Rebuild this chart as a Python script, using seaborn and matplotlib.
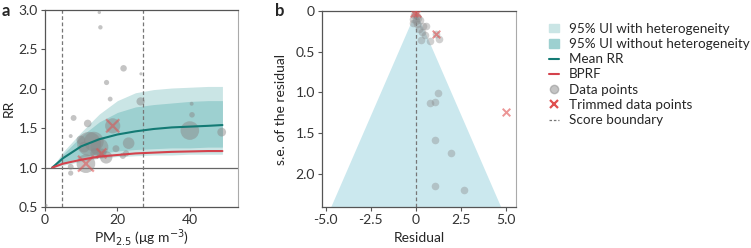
import matplotlib
matplotlib.use("Agg")
import matplotlib.pyplot as plt
import seaborn as sns
import pandas as pd
from matplotlib.lines import Line2D
from matplotlib.patches import Patch

# ---- panel a: risk curve ----
exposure = [2, 5, 10, 15, 20, 25, 30, 35, 40, 45, 49]
mean_rr = [1.0, 1.12, 1.27, 1.36, 1.42, 1.46, 1.49, 1.51, 1.52, 1.53, 1.54]
bprf = [1.0, 1.05, 1.10, 1.14, 1.16, 1.18, 1.19, 1.20, 1.205, 1.21, 1.21]
ui_het_lo = [1.0, 1.03, 1.08, 1.12, 1.14, 1.15, 1.16, 1.16, 1.17, 1.17, 1.17]
ui_het_hi = [1.0, 1.20, 1.45, 1.68, 1.85, 1.95, 1.99, 2.01, 2.02, 2.03, 2.03]
ui_lo = [1.0, 1.06, 1.13, 1.18, 1.21, 1.23, 1.24, 1.25, 1.25, 1.26, 1.26]
ui_hi = [1.0, 1.17, 1.40, 1.58, 1.70, 1.77, 1.80, 1.82, 1.84, 1.85, 1.85]

pts_x = [15.0, 15.3, 21.7, 26.5, 17.0, 18.0, 26.4, 7.9, 7.1, 11.8, 18.7, 40.5, 40.6,
         40.0, 48.8, 23.1, 12.2, 13.5, 15.0, 19.6, 22.4, 21.5, 16.9, 11.3, 7.1, 7.1,
         10.8, 14.0, 9.9, 15.6, 0.3]
pts_y = [2.97, 2.78, 2.26, 2.19, 2.08, 1.87, 1.84, 1.63, 1.40, 1.56, 1.53, 1.81, 1.67,
         1.47, 1.45, 1.31, 1.30, 1.33, 1.26, 1.24, 1.18, 1.15, 1.13, 1.05, 1.01, 0.93,
         1.26, 1.18, 1.35, 1.18, 0.52]
pts_w = [6, 10, 22, 5, 14, 12, 35, 18, 8, 30, 120, 8, 16,
         180, 40, 70, 300, 200, 170, 25, 20, 20, 80, 180, 18, 14,
         60, 60, 40, 50, 5]
trim_x = [18.7, 11.3, 15.6]
trim_y = [1.53, 1.05, 1.18]
trim_w = [90, 130, 50]
score_bounds = [4.8, 27.0]

# ---- panel b: funnel ----
resid = [-0.09, 0.05, -0.15, 0.0, 0.12, 0.24, -0.13, 0.43, 0.55, 0.33, 0.18, 0.52,
         0.80, 0.30, 1.30, 1.26, 1.09, 0.81, 1.09, 1.96, 1.09, 2.70, 0.08, -0.05, 1.11]
resid_se = [0.05, 0.06, 0.15, 0.12, 0.08, 0.11, 0.10, 0.19, 0.18, 0.26, 0.22, 0.30,
            0.37, 0.36, 0.34, 1.01, 1.12, 1.13, 1.59, 1.75, 2.15, 2.20, 0.16, 0.04, 0.28]
trim_resid = [-0.09, 0.05, 1.11, 5.02]
trim_se = [0.02, 0.03, 0.28, 1.24]

sns.set_style("white")
plt.rcParams["font.family"] = ["Lato", "DejaVu Sans"]
plt.rcParams["font.size"] = 10

fig = plt.figure(figsize=(7.51, 2.48), dpi=100)
ax1 = fig.add_axes([0.0599, 0.1653, 0.257, 0.7944])
ax2 = fig.add_axes([0.4288, 0.1653, 0.2579, 0.7903])

light = "#cae5e5"
dark = "#9dd0d0"
teal = "#137a74"
red = "#d4424c"
pgray = "#8a8a8a"
xred = "#e05050"

ax1.fill_between(exposure, ui_het_lo, ui_het_hi, color=light, lw=0, zorder=1)
ax1.fill_between(exposure, ui_lo, ui_hi, color=dark, lw=0, zorder=1.5)
ax1.axhline(1.0, color="#666666", lw=0.9, zorder=2)
for b in score_bounds:
    ax1.axvline(b, color="#777777", lw=0.9, ls=(0, (3, 2)), zorder=2)

dfa = pd.DataFrame({"x": pts_x, "y": pts_y, "w": pts_w})
sns.scatterplot(data=dfa, x="x", y="y", size="w", sizes=(min(pts_w), max(pts_w)),
                color=pgray, alpha=0.5, linewidth=0, legend=False, ax=ax1, zorder=3)
dft = pd.DataFrame({"x": trim_x, "y": trim_y, "w": trim_w})
sns.scatterplot(data=dft, x="x", y="y", size="w", sizes=(min(trim_w), max(trim_w)),
                marker="x", color=xred, alpha=0.55, linewidth=1.6, legend=False,
                ax=ax1, zorder=3.5)

sns.lineplot(x=exposure, y=mean_rr, color=teal, lw=1.5, ax=ax1, zorder=4)
sns.lineplot(x=exposure, y=bprf, color=red, lw=1.5, ax=ax1, zorder=4)

ax1.set_xlim(0, 53.3)
ax1.set_ylim(0.5, 3.0)
ax1.set_xticks([0, 20, 40])
ax1.set_yticks([0.5, 1.0, 1.5, 2.0, 2.5, 3.0])
ax1.set_xlabel("PM$_{2.5}$ (μg m$^{-3}$)", labelpad=1)
ax1.set_ylabel("RR", labelpad=3)

# funnel
se_edge = [0, 2.41]
ax2.fill_betweenx(se_edge, [-1.96 * s for s in se_edge], [1.96 * s for s in se_edge],
                  color="#cbe8ee", lw=0, zorder=1)
ax2.axvline(0, color="#777777", lw=0.9, ls=(0, (3, 2)), zorder=2)
dfb = pd.DataFrame({"r": resid, "se": resid_se})
sns.scatterplot(data=dfb, x="r", y="se", color=pgray, alpha=0.4, s=30, linewidth=0,
                ax=ax2, zorder=3)
dfbt = pd.DataFrame({"r": trim_resid, "se": trim_se})
sns.scatterplot(data=dfbt, x="r", y="se", color=xred, alpha=0.6, s=30, marker="x",
                linewidth=1.4, ax=ax2, zorder=3.5)
ax2.set_xlim(-5.2, 5.55)
ax2.set_ylim(2.41, 0)
ax2.set_xticks([-5.0, -2.5, 0, 2.5, 5.0])
ax2.set_xticklabels(["-5.0", "-2.5", "0", "2.5", "5.0"])
ax2.set_yticks([0, 0.5, 1.0, 1.5, 2.0])
ax2.set_yticklabels(["0", "0.5", "1.0", "1.5", "2.0"])
ax2.set_xlabel("Residual", labelpad=4)
ax2.set_ylabel("s.e. of the residual", labelpad=6)

for ax in (ax1, ax2):
    for side in ["left", "bottom", "top"]:
        ax.spines[side].set_color("#555555")
        ax.spines[side].set_linewidth(0.9)
    ax.spines["right"].set_color("#aaaaaa")
    ax.spines["right"].set_linewidth(0.8)
    ax.tick_params(axis="both", length=3, width=0.8, color="#555555", pad=2,
                   labelsize=10, labelcolor="#333333", direction="out",
                   left=True, bottom=True)

fig.text(0.002, 0.955, "a", fontsize=12, fontweight="bold", va="center")
fig.text(0.366, 0.955, "b", fontsize=12, fontweight="bold", va="center")

handles = [
    Patch(color=light, label="95% UI with heterogeneity"),
    Patch(color=dark, label="95% UI without heterogeneity"),
    Line2D([], [], color=teal, lw=1.5, label="Mean RR"),
    Line2D([], [], color=red, lw=1.5, label="BPRF"),
    Line2D([], [], marker="o", color=pgray, alpha=0.5, ls="none", ms=6, label="Data points"),
    Line2D([], [], marker="x", color=xred, mew=1.6, ls="none", ms=6, label="Trimmed data points"),
    Line2D([], [], color="#777777", lw=0.9, ls=(0, (2, 1.5)), label="Score boundary"),
]
fig.legend(handles=handles, loc="upper left", bbox_to_anchor=(0.724, 0.93),
           frameon=False, handlelength=0.75, handleheight=0.6, handletextpad=0.7,
           labelspacing=0.24, fontsize=9.7, borderaxespad=0)

fig.savefig("out.png", dpi=100)
